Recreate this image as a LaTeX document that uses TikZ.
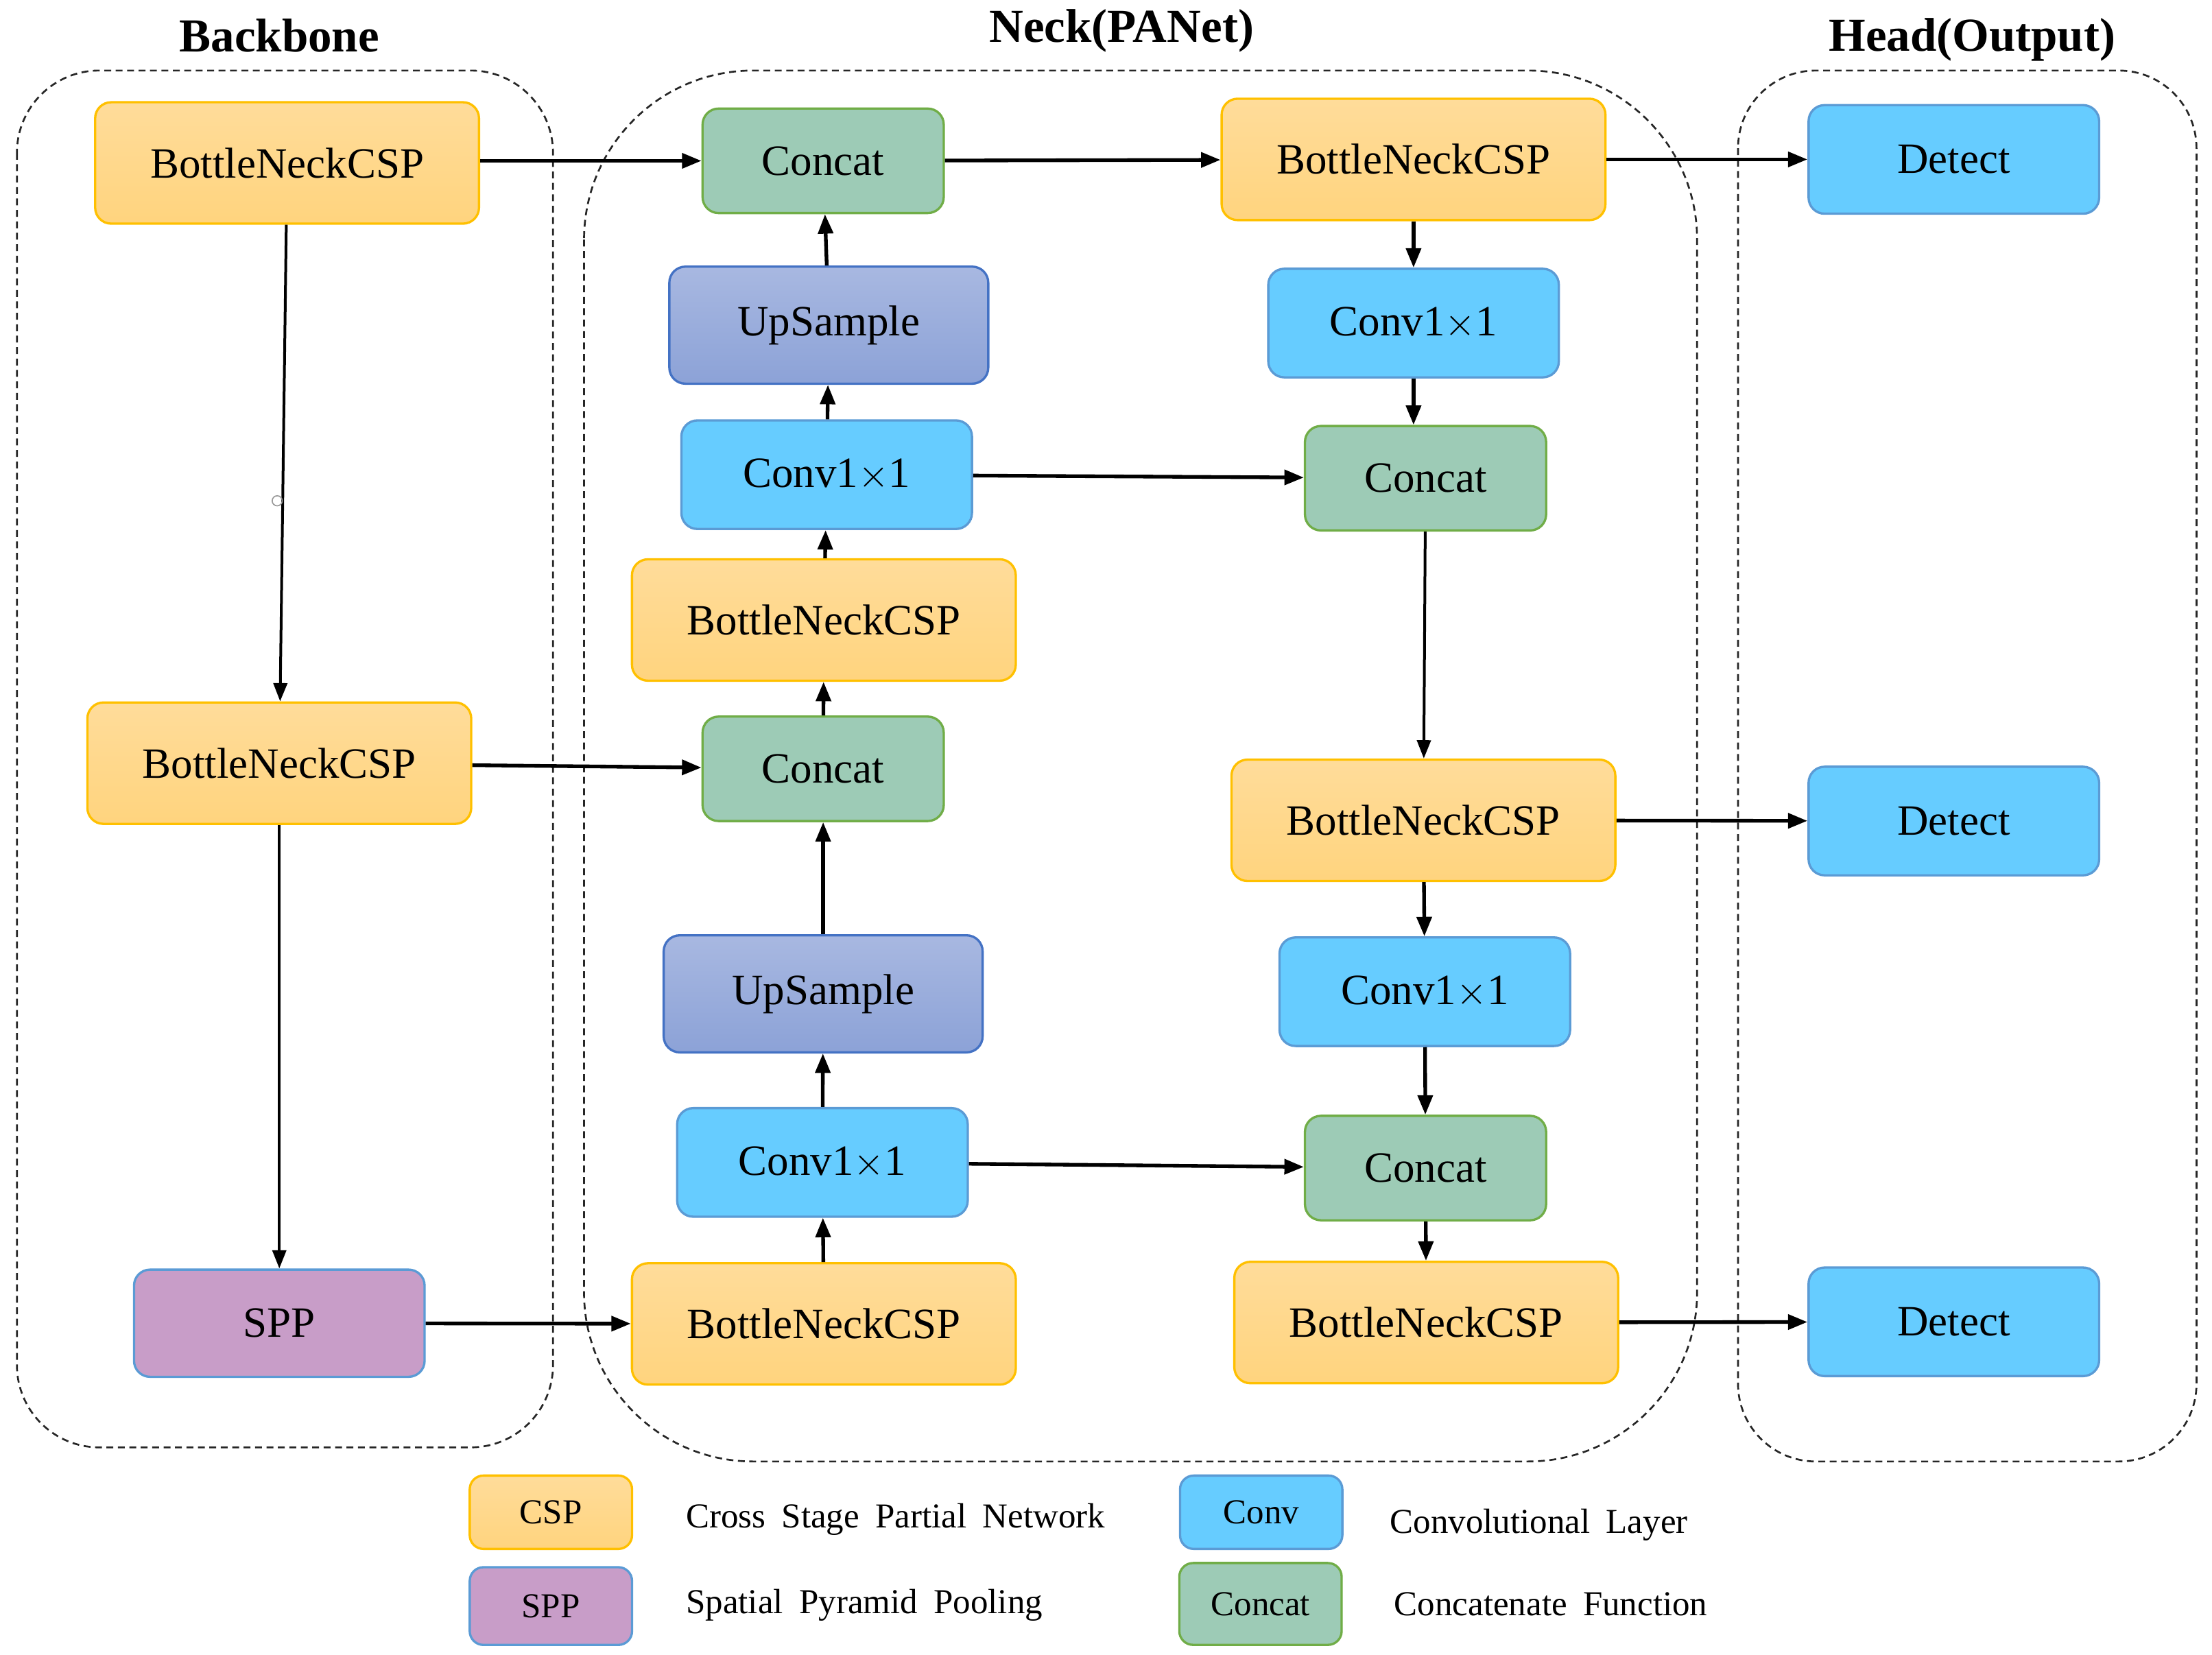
\documentclass[tikz,border=0pt]{standalone}
\usepackage{fontspec}
\setmainfont{Liberation Serif}
\usetikzlibrary{arrows.meta}
\definecolor{csptop}{HTML}{FFDC9A}
\definecolor{cspbot}{HTML}{FFD47E}
\definecolor{cspdraw}{HTML}{FFC000}
\definecolor{convfill}{HTML}{66CCFF}
\definecolor{convdraw}{HTML}{5B9BD5}
\definecolor{catfill}{HTML}{9DCBB6}
\definecolor{catdraw}{HTML}{70AD47}
\definecolor{uptop}{HTML}{A8B8E1}
\definecolor{upbot}{HTML}{8CA2D7}
\definecolor{updraw}{HTML}{4472C4}
\definecolor{sppfill}{HTML}{C89DC8}
\newcommand{\widesp}{\spaceskip=7pt\relax}
\begin{document}
\begin{tikzpicture}[x=0.6171pt,y=-0.6171pt,
  box/.style={draw, rounded corners=7pt, line width=1pt, inner sep=0pt,
    font=\fontsize{18.9}{22}\selectfont, align=center},
  csp/.style={box, draw=cspdraw, top color=csptop, bottom color=cspbot,
    minimum width=167.9pt, minimum height=53.1pt},
  cat/.style={box, draw=catdraw, fill=catfill, minimum width=105.5pt, minimum height=45.7pt},
  ups/.style={box, draw=updraw, top color=uptop, bottom color=upbot,
    minimum width=139.5pt, minimum height=51.2pt},
  conv/.style={box, draw=convdraw, fill=convfill, minimum width=127.1pt, minimum height=47.5pt},
  sppbox/.style={box, draw=convdraw, fill=sppfill, minimum width=127.1pt, minimum height=46.9pt},
  title/.style={font=\fontsize{20.7}{24}\selectfont\bfseries},
  legbox/.style={box, font=\fontsize{15.3}{18}\selectfont, rounded corners=6pt, minimum width=71pt},
  legtext/.style={anchor=west, inner sep=0pt, font=\fontsize{15.3}{18}\selectfont},
  container/.style={draw=black!85, line width=0.8pt, dash pattern=on 3pt off 2pt},
  arr/.style={draw, line width=1.6pt, -{Triangle[length=8.5pt,width=6.5pt]}},
  arrt/.style={draw, line width=1.2pt, -{Triangle[length=8pt,width=6pt]}}
]
\useasboundingbox (0,0) rectangle (1568,1173);

% containers
\draw[container, rounded corners=36pt] (12,50) rectangle (392,1026);
\draw[container, rounded corners=74pt] (414,50) rectangle (1203,1036);
\draw[container, rounded corners=34pt] (1232,50) rectangle (1557,1036);

% titles
\node[title] (tback) at (198,25) {Backbone};
\node[title] (tneck) at (795,22) {Neck(PANet)};
\node[title] (thead) at (1398,28) {Head(Output)};

% backbone
\node[csp] (b1) at (203.5,115.5) {BottleNeckCSP};
\node[csp] (b2) at (198,541) {BottleNeckCSP};
\node[sppbox] (spp) at (198,938) {SPP};

% neck left column
\node[cat] (c1) at (583.5,114) {Concat};
\node[ups] (u1) at (587.5,230.5) {UpSample};
\node[conv] (v1) at (586,336.5) {Conv1$\times$1};
\node[csp] (n1) at (584,439.5) {BottleNeckCSP};
\node[cat] (c2) at (583.5,545) {Concat};
\node[ups] (u2) at (583.5,704.5) {UpSample};
\node[conv] (v2) at (583,824) {Conv1$\times$1};
\node[csp] (n2) at (584,938.5) {BottleNeckCSP};

% neck right column
\node[csp] (r1) at (1002,113) {BottleNeckCSP};
\node[conv] (rv1) at (1002,229) {Conv1$\times$1};
\node[cat] (rc1) at (1010.5,339) {Concat};
\node[csp] (r2) at (1009,581.5) {BottleNeckCSP};
\node[conv] (rv2) at (1010,703) {Conv1$\times$1};
\node[cat] (rc2) at (1010.5,828) {Concat};
\node[csp] (r3) at (1011,937.5) {BottleNeckCSP};

% head
\node[conv] (d1) at (1385,113) {Detect};
\node[conv] (d2) at (1385,582) {Detect};
\node[conv] (d3) at (1385,937) {Detect};

% connectors
\draw[arr] (b1.east |- c1.west) -- (c1.west);
\draw[arrt] (b1) -- (b2);
\draw[arrt] (b2) -- (spp);
\draw[arr] (b2) -- (c2);
\draw[arr] (spp) -- (n2);
\draw[arr] (n2) -- (v2);
\draw[arr] (v2) -- (u2);
\draw[arr] (u2) -- (c2);
\draw[arr] (c2) -- (n1);
\draw[arr] (n1) -- (v1);
\draw[arr] (v1) -- (u1);
\draw[arr] (u1) -- (c1);
\draw[arr] (c1) -- (r1);
\draw[arr] (r1) -- (rv1);
\draw[arr] (rv1.south) -- (rv1.south |- rc1.north);
\draw[arr] (v1) -- (rc1);
\draw[arrt] (rc1) -- (r2);
\draw[arr] (r2) -- (rv2);
\draw[arr] (rv2) -- (rc2);
\draw[arr] (v2) -- (rc2);
\draw[arr] (rc2) -- (r3);
\draw[arr] (r1) -- (d1);
\draw[arr] (r2) -- (d2);
\draw[arr] (r3) -- (d3);

% small mark on the backbone line
\draw[black!40, line width=0.5pt] (196.5,355) circle[radius=2.2pt];

% legend
\node[legbox, draw=cspdraw, top color=csptop, bottom color=cspbot, minimum height=32.1pt] (lcsp) at (390.5,1072) {CSP};
\node[legbox, draw=convdraw, fill=sppfill, minimum height=34pt] (lspp) at (390.5,1138.5) {SPP};
\node[legbox, draw=convdraw, fill=convfill, minimum height=32.1pt] (lconv) at (894,1072) {Conv};
\node[legbox, draw=catdraw, fill=catfill, minimum height=35.8pt] (lcat) at (893.5,1137) {Concat};
\node[legtext] (tcsp) at (486,1077) {\widesp Cross Stage Partial Network};
\node[legtext] (tspp) at (486,1138) {\widesp Spatial Pyramid Pooling};
\node[legtext] (tconv) at (985,1081) {\widesp Convolutional Layer};
\node[legtext] (tcat) at (988,1137) {\widesp Concatenate Function};
\end{tikzpicture}
\end{document}
